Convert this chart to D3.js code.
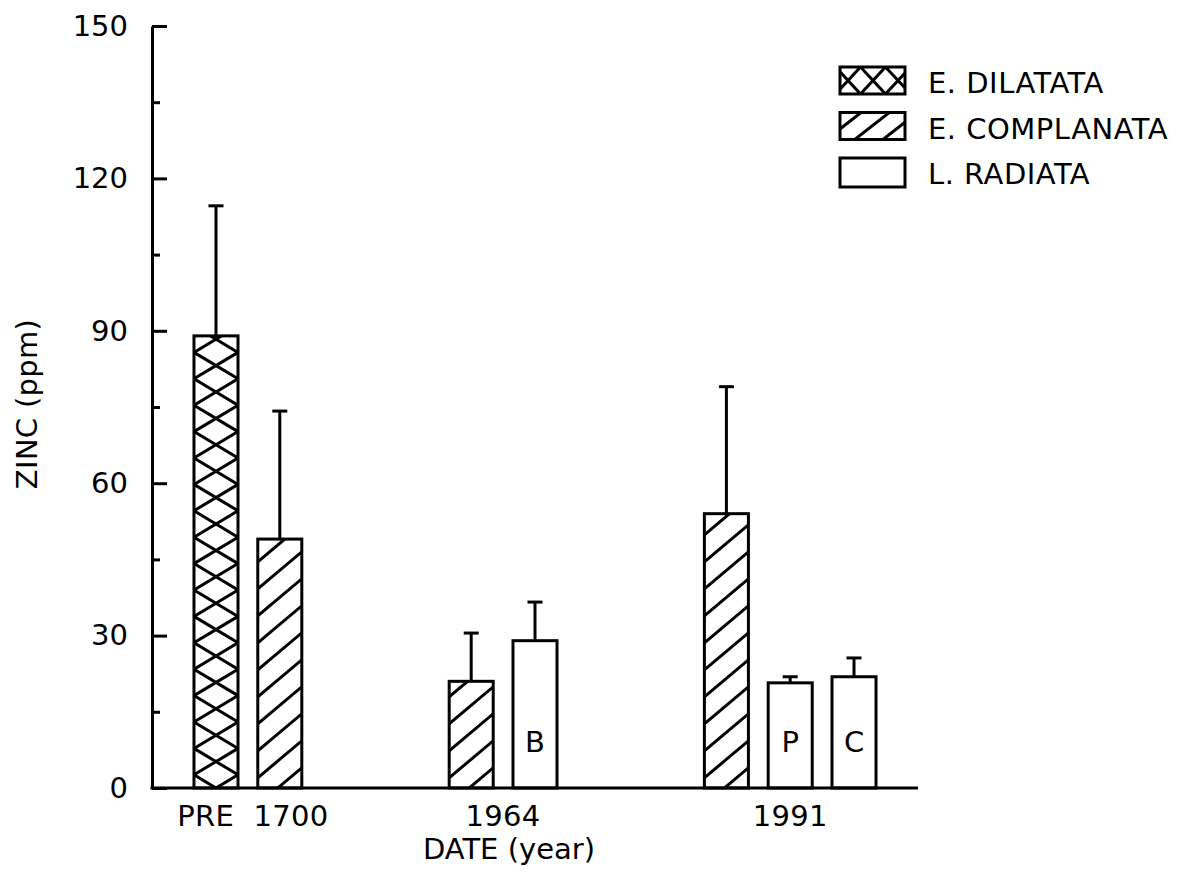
<!DOCTYPE html>
<html>
<head>
<meta charset="utf-8">
<script src="https://cdn.jsdelivr.net/npm/d3@7"></script>
<style>
  html, body { margin: 0; padding: 0; background: #fff; }
  svg text { font-family: "DejaVu Sans", sans-serif; fill: #000; }
</style>
</head>
<body>
<svg id="chart" width="1182" height="875"></svg>
<script>
const groups = ["PRE 1700", "1964", "1991"];
const species = ["E. DILATATA", "E. COMPLANATA", "L. RADIATA"];
const barGroup = ["PRE 1700", "PRE 1700", "1964", "1964", "1991", "1991", "1991"];
const barSpecies = ["E. DILATATA", "E. COMPLANATA", "E. COMPLANATA", "L. RADIATA", "E. COMPLANATA", "L. RADIATA", "L. RADIATA"];
const barMean = [89, 49, 21, 29, 54, 20.7, 21.9];
const barSd = [25.6, 25.2, 9.5, 7.6, 25, 1.2, 3.7];
const barTag = ["", "", "", "B", "", "P", "C"];
const yMajorTicks = [0, 30, 60, 90, 120, 150];
const yMinorTicks = [15, 45, 75, 105, 135];

const svg = d3.select("#chart");
const ink = "#000";
const lw = 3;
const fs = 29;

const bars = barMean.map((m, i) => ({
  key: `bar${i}`, group: barGroup[i], species: barSpecies[i], mean: m, sd: barSd[i], tag: barTag[i],
}));

// slot layout: bars of a group side by side, two empty slots between groups
const slots = [];
groups.forEach((g, gi) => {
  if (gi > 0) slots.push(`gap${gi}a`, `gap${gi}b`);
  bars.filter((b) => b.group === g).forEach((b) => slots.push(b.key));
});

const x = d3.scaleBand().domain(slots).range([152, 918]).paddingInner(0.31).paddingOuter(0.658);
const y = d3.scaleLinear().domain([0, 150]).range([788, 26]);
const bw = x.bandwidth();
const y0 = y(0);

const defs = svg.append("defs");

// hatch helpers: parallel lines clipped to a rect
function lineFamily(g, r, cx, cy, slope, period) {
  const reach = r.h + Math.abs(slope) * (r.w + Math.abs(cx - r.x) + Math.abs(cx - r.x - r.w));
  const mMin = Math.floor((r.y - cy - reach) / period) - 1;
  const mMax = Math.ceil((r.y + r.h - cy + reach) / period) + 1;
  for (let m = mMin; m <= mMax; m++) {
    const ya = cy + slope * (r.x - cx) + m * period;
    const yb = cy + slope * (r.x + r.w - cx) + m * period;
    g.append("line")
      .attr("x1", r.x).attr("y1", ya)
      .attr("x2", r.x + r.w).attr("y2", yb)
      .attr("stroke", ink).attr("stroke-width", lw);
  }
}

function fillStyle(g, sp, r, opt) {
  if (sp === "E. DILATATA") {
    const s = opt.cross.py / opt.cross.px;
    lineFamily(g, r, opt.cross.cx, opt.cross.cy, s, opt.cross.py);
    lineFamily(g, r, opt.cross.cx, opt.cross.cy, -s, opt.cross.py);
  } else if (sp === "E. COMPLANATA") {
    lineFamily(g, r, opt.stripe.cx, opt.stripe.cy, -opt.stripe.s, opt.stripe.py);
  }
}

function hatchedRect(parent, id, sp, r, opt) {
  defs.append("clipPath").attr("id", id)
    .append("rect").attr("x", r.x).attr("y", r.y).attr("width", r.w).attr("height", r.h);
  const g = parent.append("g");
  g.append("rect").attr("x", r.x).attr("y", r.y).attr("width", r.w).attr("height", r.h).attr("fill", "#fff");
  const hg = g.append("g").attr("clip-path", `url(#${id})`);
  fillStyle(hg, sp, r, opt);
  g.append("rect").attr("x", r.x).attr("y", r.y).attr("width", r.w).attr("height", r.h)
    .attr("fill", "none").attr("stroke", ink).attr("stroke-width", lw);
}

// bars
const barsLayer = svg.append("g").attr("class", "bars");
bars.forEach((b, i) => {
  const bx = x(b.key);
  const r = { x: bx, y: y(b.mean), w: bw, h: y0 - y(b.mean) };
  hatchedRect(barsLayer, `clip-bar-${i}`, b.species, r, {
    cross: { cx: bx + bw / 2, cy: y0, px: bw, py: 26.4 },
    stripe: { cx: bx + 20, cy: y0, s: 0.84, py: 27 },
  });
  const cxm = bx + bw / 2;
  barsLayer.append("line")
    .attr("x1", cxm).attr("x2", cxm).attr("y1", y(b.mean)).attr("y2", y(b.mean + b.sd))
    .attr("stroke", ink).attr("stroke-width", lw);
  barsLayer.append("line")
    .attr("x1", cxm - 7.5).attr("x2", cxm + 7.5).attr("y1", y(b.mean + b.sd)).attr("y2", y(b.mean + b.sd))
    .attr("stroke", ink).attr("stroke-width", lw);
  if (b.tag) {
    barsLayer.append("text")
      .attr("x", cxm).attr("y", 752)
      .attr("text-anchor", "middle").attr("font-size", fs)
      .text(b.tag);
  }
});

// y axis, ticks pointing inward
const gy = svg.append("g").attr("transform", "translate(152,0)");
gy.call(d3.axisLeft(y).tickValues(yMajorTicks).tickSizeInner(-15).tickSizeOuter(0).tickPadding(24).tickFormat(d3.format("d")));
gy.selectAll("path,line").attr("stroke", ink).attr("stroke-width", lw);
gy.selectAll("text").attr("font-size", fs).attr("font-family", "DejaVu Sans").attr("fill", ink);
const gyMinor = svg.append("g").attr("transform", "translate(152,0)");
gyMinor.call(d3.axisLeft(y).tickValues(yMinorTicks).tickSizeInner(-8).tickSizeOuter(0).tickFormat(""));
gyMinor.select("path").remove();
gyMinor.selectAll("line").attr("stroke", ink).attr("stroke-width", lw);

// x axis line
svg.append("line")
  .attr("x1", x.range()[0] - lw / 2).attr("x2", x.range()[1]).attr("y1", y0).attr("y2", y0)
  .attr("stroke", ink).attr("stroke-width", lw);

// group labels
groups.forEach((g) => {
  const ks = bars.filter((b) => b.group === g).map((b) => b.key);
  const left = x(ks[0]);
  const right = x(ks[ks.length - 1]) + bw;
  svg.append("text")
    .attr("x", (left + right) / 2 + (g === "PRE 1700" ? 5 : 0)).attr("y", 826)
    .attr("text-anchor", "middle").attr("font-size", fs).attr("letter-spacing", 0.3)
    .attr("word-spacing", 10)
    .text(g);
});

// axis titles
svg.append("text")
  .attr("x", 509).attr("y", 859)
  .attr("text-anchor", "middle").attr("font-size", fs)
  .text("DATE (year)");
svg.append("text")
  .attr("transform", "translate(37,404) rotate(-90)")
  .attr("text-anchor", "middle").attr("font-size", fs).attr("letter-spacing", 0.3)
  .text("ZINC (ppm)");

// legend
const legendY = d3.scaleLinear().domain([0, 1]).range([67, 112.5]);
const legend = svg.append("g").attr("class", "legend");
species.forEach((sp, i) => {
  const top = legendY(i);
  const r = { x: 840, y: top, w: 65, h: i === 2 ? 29 : 27 };
  hatchedRect(legend, `clip-leg-${i}`, sp, r, {
    cross: { cx: 848, cy: top + 13.5, px: 25, py: 27 },
    stripe: { cx: 856, cy: top + 26, s: 0.78, py: 22 },
  });
  legend.append("text")
    .attr("x", 928).attr("y", top + 26)
    .attr("font-size", fs).attr("letter-spacing", 0.5)
    .text(sp);
});
</script>
</body>
</html>
